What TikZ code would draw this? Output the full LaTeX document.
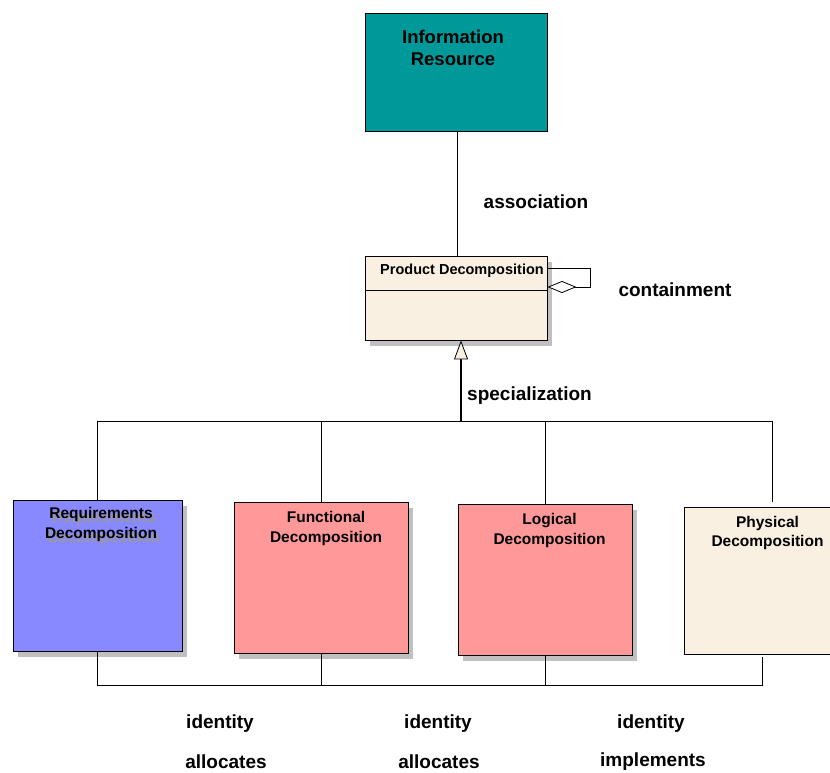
\documentclass[tikz,border=0pt]{standalone}
\usepackage{fontspec}
\setmainfont{Liberation Sans}
\usetikzlibrary{arrows.meta,shadows,calc}
\definecolor{teal1}{HTML}{009999}
\definecolor{reqblue}{HTML}{8888FF}
\definecolor{pinkbox}{HTML}{FF9999}
\definecolor{linen1}{HTML}{FAF0E1}
\definecolor{shade}{HTML}{C0C0C0}
% a word with a faint grey copy set slightly below and to the right
\newcommand{\ghostword}[1]{\rlap{\hspace{3pt}\raisebox{-4pt}{\textcolor{black!40}{#1}}}#1}
\begin{document}
\begin{tikzpicture}[x=1pt,y=-1pt,
  classbox/.style={draw=black, line width=0.9pt, inner sep=0pt, rectangle},
  shadowed/.style={drop shadow={shadow xshift=5pt, shadow yshift=-6pt, fill=shade, opacity=1}},
  title/.style={font=\bfseries\fontsize{15.5}{19.5}\selectfont, align=center, inner sep=0pt},
  lbl/.style={font=\bfseries\fontsize{19}{22}\selectfont, inner sep=0pt},
  conn/.style={draw=black, line width=0.8pt}
]
\useasboundingbox (0,0) rectangle (830,772);

% classes
\node[classbox, fill=teal1, minimum width=182pt, minimum height=118pt] (info) at (456,72) {};
\node[font=\bfseries\fontsize{18.5}{22}\selectfont, align=center, inner sep=0pt] (infot) at (453,48) {Information\\Resource};

\node[classbox, shadowed, fill=linen1, minimum width=182pt, minimum height=84pt] (prod) at (456,298) {};
\draw[line width=0.8pt] (prod.west |- 0,290) coordinate (dl) -- (prod.east |- dl);
\node[font=\bfseries\fontsize{14.5}{17}\selectfont, inner sep=0pt] (prodt) at (462,271) {Product Decomposition};

\node[classbox, shadowed, fill=reqblue, minimum width=169pt, minimum height=151pt] (req) at (97.5,575.5) {};
\node[title] (reqt) at (101,526.5) {\ghostword{Requirements}\\\ghostword{Decomposition}};

\node[classbox, shadowed, fill=pinkbox, minimum width=174pt, minimum height=151pt] (func) at (321,577.5) {};
\node[title] (funct) at (326,528.5) {Functional\\Decomposition};

\node[classbox, shadowed, fill=pinkbox, minimum width=174pt, minimum height=151pt] (log) at (545,579.5) {};
\node[title] (logt) at (549.5,530.5) {Logical\\Decomposition};

\node[classbox, fill=linen1, minimum width=167pt, minimum height=147pt] (phys) at (767.5,580.5) {};
\node[title] (physt) at (767.5,533) {Physical\\Decomposition};

% association
\draw[conn] (info.south -| 457,0) -- (prod.north -| 457,0);
\node[lbl] (assoc) at (536,202) {association};

% containment (self aggregation)
\coordinate (c1) at ($(prod.east)+(0pt,30pt)$);
\coordinate (c2) at ($(prod.east)+(0pt,11pt)$);
\draw[conn, -{Diamond[open, fill=white, length=29pt, width=12pt, line width=0.8pt]}]
  (c1) -- ++(43pt,0pt) |- (c2);
\node[lbl] (contain) at (675,290) {containment};

% specialization
\coordinate (j) at (461,421);
\draw[line width=2pt, -{Triangle[open, fill=linen1, length=19pt, width=14pt, line width=0.8pt]}]
  (j) -- (j |- prod.south);
\node[lbl, anchor=west] (spec) at (467,396) {specialization};

\coordinate (ptop) at (772,502);
\draw[conn] (req.north) -- (req.north |- j) -- (ptop |- j) -- (ptop);
\draw[conn] (func.north) -- (func.north |- j);
\draw[conn] (log.north) -- (log.north |- j);

% lower links
\coordinate (bus) at (0,685);
\coordinate (pbot) at (762,657);
\draw[conn] (req.south) -- (req.south |- bus) -- (pbot |- bus) -- (pbot);
\draw[conn] (func.south) -- (func.south |- bus);
\draw[conn] (log.south) -- (log.south |- bus);

\node[lbl] (id1) at (220,724) {identity};
\node[lbl] (id2) at (438,724) {identity};
\node[lbl] (id3) at (651,724) {identity};
\node[lbl] (al1) at (226,762) {allocates};
\node[lbl] (al2) at (439,762) {allocates};
\node[lbl] (imp) at (653,762) {implements};
\end{tikzpicture}
\end{document}
